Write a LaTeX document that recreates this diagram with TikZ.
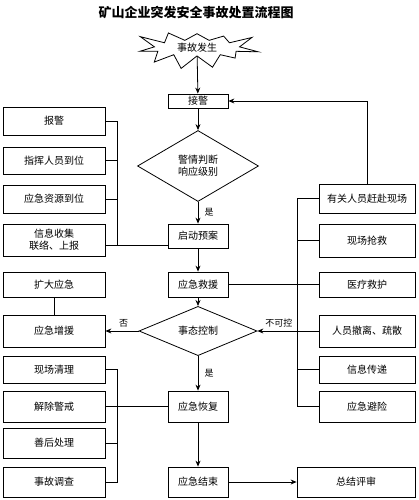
\documentclass[tikz,border=0pt]{standalone}
\usepackage{fontspec}
\setmainfont{Noto Sans CJK SC}
\usetikzlibrary{shapes,arrows.meta,positioning}

\begin{document}
\begin{tikzpicture}[x=1pt, y=-1pt,
    box/.style={rectangle, draw, thick, minimum width=102pt, minimum height=29pt, inner sep=1pt, font=\normalsize, align=center},
    rbox/.style={box, minimum width=96pt},
    mid/.style={box, minimum width=60pt},
    judge/.style={diamond, draw, thick, inner sep=0pt, font=\normalsize, align=center},
    burst/.style={starburst, draw, thick, starburst points=11, starburst point height=20pt, random starburst=3, minimum width=126pt, minimum height=48pt, inner sep=1pt, font=\normalsize},
    arrow/.style={-{Stealth[length=6pt, width=5pt, inset=2pt]}, thick},
    line/.style={thick},
    tag/.style={font=\small}
]
\useasboundingbox (0,0) rectangle (418,500);

\node[font=\bfseries\fontsize{13}{15}\selectfont] (title) at (196,13) {矿山企业突发安全事故处置流程图};

% main column
\node[burst] (start) at (197,48) {事故发生};
\node[mid, minimum height=14pt] (jj) at (198,101) {接警};
\node[judge, minimum width=121pt, minimum height=71pt] (jq) at (198,166) {警情判断\\响应级别};
\node[mid, minimum height=24pt] (qd) at (198,236) {启动预案};
\node[mid, minimum height=25pt] (jy) at (198,284.5) {应急救援};
\node[judge, minimum width=118pt, minimum height=32pt] (tk) at (198,331) {事态控制};
\node[mid, minimum height=31pt] (hf) at (198,406.5) {应急恢复};
\node[mid, minimum height=30pt] (js) at (198,482) {应急结束};

% left column
\node[box, minimum height=28pt] (bj) at (54,121) {报警};
\node[box, minimum height=27pt] (zh) at (54,160.5) {指挥人员到位};
\node[box, minimum height=28pt] (zy) at (54,199) {应急资源到位};
\node[box, minimum height=32pt] (xx) at (54,240) {信息收集\\联络、上报};
\node[box, minimum height=25pt] (kd) at (54,284.5) {扩大应急};
\node[box, minimum height=32pt] (zb) at (54,331) {应急增援};
\node[box, minimum height=27pt] (xc) at (54,369.5) {现场清理};
\node[box, minimum height=31pt] (jc) at (54,406.5) {解除警戒};
\node[box, minimum height=30pt] (sh) at (54,443) {善后处理};
\node[box, minimum height=30pt] (dc) at (54,482) {事故调查};

% right column
\node[rbox] (gf) at (367,198.5) {有关人员赶赴现场};
\node[rbox, minimum height=33pt] (qj) at (367,240.5) {现场抢救};
\node[rbox, minimum height=25pt] (yl) at (367,284.5) {医疗救护};
\node[rbox, minimum height=32pt] (cl) at (367,331) {人员撤离、疏散};
\node[rbox, minimum height=27pt] (cd) at (367,369.5) {信息传递};
\node[rbox, minimum height=31pt] (bx) at (367,406.5) {应急避险};
\node[box, minimum width=118pt, minimum height=30pt] (zj) at (356,482) {总结评审};

% bus points
\coordinate (lb1) at (117,121);
\coordinate (lb2) at (117,245);
\coordinate (lb3) at (117,369.5);
\coordinate (lb4) at (117,482);
\coordinate (rb1) at (297,198.5);
\coordinate (rb2) at (297,406.5);

% main flow
\draw[arrow] (start) -- (jj);
\draw[arrow] (jj) -- (jq);
\draw[arrow] (jq) -- node[tag, right, xshift=3pt] {是} (qd);
\draw[arrow] (qd) -- (jy);
\draw[arrow] (jy) -- (tk);
\draw[arrow] (tk) -- node[tag, right, xshift=3pt] {是} (hf);
\draw[arrow] (hf) -- (js);
\draw[arrow] (js) -- (zj);
\draw[arrow] (tk) -- node[tag, above, pos=0.45] {否} (zb);
\draw[arrow] (cl) -- node[tag, above, pos=0.65] {不可控} (tk);
\draw[arrow] (gf.north) |- (jj);

% left links
\draw[line] (bj) -- (lb1) -- (lb2) -- (lb2 -| qd.west);
\draw[line] (zh) -- (zh -| lb1);
\draw[line] (zy) -- (zy -| lb1);
\draw[line] (xx.east |- lb2) -- (lb2);
\draw[line] (kd) -- (zb);
\draw[line] (xc) -- (lb3) -- (lb4) -- (dc);
\draw[line] (jc) -- (hf);
\draw[line] (sh) -- (sh -| lb3);

% right links
\draw[line] (gf) -- (rb1) -- (rb2) -- (bx);
\draw[line] (qj) -- (qj -| rb1);
\draw[line] (jy) -- (yl);
\draw[line] (cd) -- (cd -| rb1);
\end{tikzpicture}
\end{document}
